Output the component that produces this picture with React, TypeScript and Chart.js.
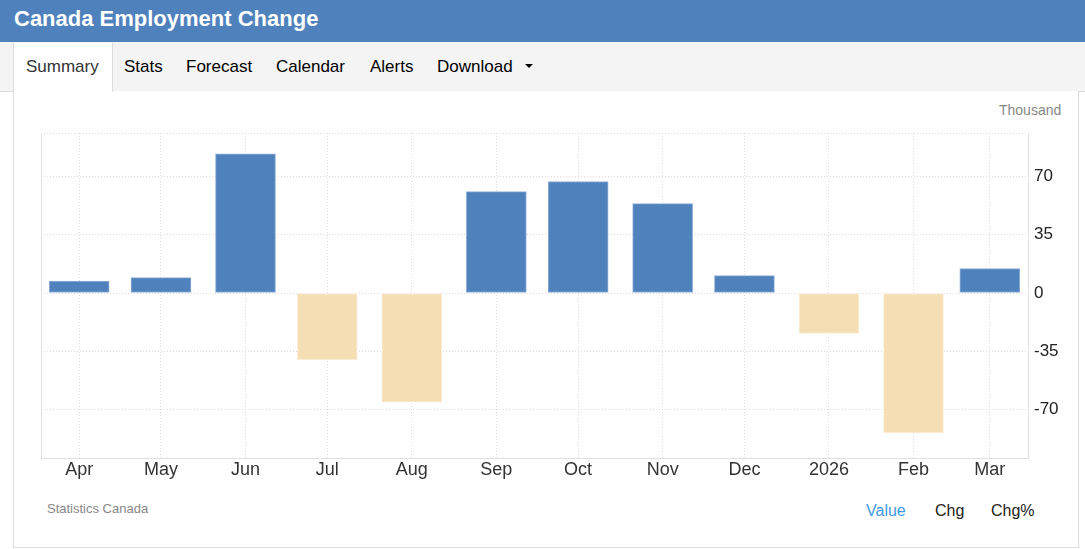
import React, { useEffect, useRef } from 'react';
import { Chart, registerables } from 'chart.js';

Chart.register(...registerables);

// ---- data ----
const categories = ['Apr', 'May', 'Jun', 'Jul', 'Aug', 'Sep', 'Oct', 'Nov', 'Dec', '2026', 'Feb', 'Mar'];
const periodDates = [
  '2025-04-01', '2025-05-01', '2025-06-01', '2025-07-01', '2025-08-01', '2025-09-01',
  '2025-10-01', '2025-11-01', '2025-12-01', '2026-01-01', '2026-02-01', '2026-03-01',
];
const values = [7.2, 9.2, 83.5, -40.2, -65.5, 60.8, 66.9, 53.6, 10.4, -24.3, -84.0, 14.6];
const yTickValues = [-70, -35, 0, 35, 70];
const yMin = -99;
const yMax = 96;
const edgeDays = 14;

const FONT = "'Liberation Sans', Arial, Helvetica, sans-serif";
const BLUE = '#4f81bd';
const WHEAT = '#f5deb3';

const toDay = (s: string) => Date.parse(s + 'T00:00:00Z') / 86400000;

const leftFrame = {
  id: 'leftFrame',
  beforeDatasetsDraw(chart: any) {
    const { ctx, chartArea } = chart;
    ctx.save();
    ctx.strokeStyle = '#e3e3e3';
    ctx.lineWidth = 1;
    ctx.beginPath();
    const x = Math.round(chartArea.left) + 0.5;
    ctx.moveTo(x, chartArea.top);
    ctx.lineTo(x, chartArea.bottom);
    ctx.stroke();
    ctx.restore();
  },
};

function EmploymentChart() {
  const ref = useRef<HTMLCanvasElement | null>(null);
  useEffect(() => {
    if (!ref.current) return;
    const days = periodDates.map(toDay);
    const chart = new Chart(ref.current, {
      type: 'bar',
      data: {
        datasets: [
          {
            data: values.map((v, i) => ({ x: days[i], y: v })),
            backgroundColor: values.map((v) => (v >= 0 ? BLUE : WHEAT)),
            borderColor: values.map((v) => (v >= 0 ? '#93b0d8' : '#fbeedb')),
            borderWidth: 1,
            borderSkipped: false,
            barThickness: 60,
          } as any,
        ],
      },
      plugins: [leftFrame],
      options: {
        animation: false,
        responsive: false,
        events: [],
        layout: { padding: { left: 41, top: 133, right: 0, bottom: 0 } },
        plugins: { legend: { display: false }, tooltip: { enabled: false } },
        scales: {
          x: {
            type: 'linear',
            offset: false,
            min: days[0] - edgeDays,
            max: days[days.length - 1] + edgeDays,
            afterBuildTicks: (scale: any) => {
              scale.ticks = days.map((d) => ({ value: d }));
            },
            afterFit: (scale: any) => {
              scale.height = 91;
            },
            grid: { offset: false, color: '#dcdcdc', drawTicks: false, lineWidth: 1 },
            border: { display: true, color: '#e0e0e0', dash: [1, 2] },
            ticks: {
              autoSkip: false,
              maxRotation: 0,
              padding: 1,
              color: '#333333',
              font: { family: FONT, size: 18 },
              callback: (_v: any, i: number) => categories[i],
            },
          },
          y: {
            type: 'linear',
            position: 'right',
            min: yMin,
            max: yMax,
            afterBuildTicks: (scale: any) => {
              scale.ticks = [yMin, ...yTickValues, yMax].map((v) => ({ value: v }));
            },
            afterFit: (scale: any) => {
              scale.width = 57;
            },
            grid: { color: '#dcdcdc', drawTicks: false, lineWidth: 1 },
            border: { display: true, color: '#e0e0e0', dash: [1, 2] },
            ticks: {
              padding: 6,
              color: '#222222',
              font: { family: FONT, size: 17 },
              callback: (v: any) => (yTickValues.includes(v) ? String(v) : ''),
            },
          },
        },
      } as any,
    });
    return () => chart.destroy();
  }, []);
  return (
    <canvas
      ref={ref}
      width={1085}
      height={549}
      style={{ position: 'absolute', left: 0, top: 0, width: 1085, height: 549 }}
    />
  );
}

const abs = (o: React.CSSProperties): React.CSSProperties => ({ position: 'absolute', ...o });

export default function App() {
  const tabText: React.CSSProperties = { fontSize: 17, color: '#000', lineHeight: '20px', whiteSpace: 'nowrap' };
  return (
    <div
      style={{
        position: 'fixed',
        left: 0,
        top: 0,
        width: 1085,
        height: 549,
        overflow: 'hidden',
        background: '#fff',
        fontFamily: FONT,
      }}
    >
      {/* header */}
      <div style={abs({ left: 0, top: 0, width: 1085, height: 42, background: BLUE })}>
        <div
          style={abs({
            left: 14,
            top: 0,
            height: 38,
            lineHeight: '38px',
            fontSize: 22,
            fontWeight: 'bold',
            color: '#fff',
            whiteSpace: 'nowrap',
          })}
        >
          Canada Employment Change
        </div>
      </div>
      {/* tab bar */}
      <div
        style={abs({
          left: 0,
          top: 42,
          width: 1085,
          height: 50,
          background: '#f4f4f4',
          borderBottom: '1px solid #d9d9d9',
          boxSizing: 'border-box',
        })}
      />
      {/* panel */}
      <div
        style={abs({
          left: 13,
          top: 91,
          width: 1066,
          height: 457,
          borderLeft: '1px solid #dddddd',
          borderRight: '1px solid #dddddd',
          borderBottom: '1px solid #dddddd',
          boxSizing: 'border-box',
          background: '#fff',
        })}
      />
      {/* active tab */}
      <div
        style={abs({
          left: 13,
          top: 43,
          width: 100,
          height: 49,
          background: '#fff',
          borderLeft: '1px solid #dddddd',
          borderRight: '1px solid #dddddd',
          boxSizing: 'border-box',
        })}
      />
      <div style={abs({ ...tabText, left: 26, top: 57, color: '#333' })}>Summary</div>
      <div style={abs({ ...tabText, left: 124, top: 57 })}>Stats</div>
      <div style={abs({ ...tabText, left: 186, top: 57 })}>Forecast</div>
      <div style={abs({ ...tabText, left: 276, top: 57 })}>Calendar</div>
      <div style={abs({ ...tabText, left: 370, top: 57 })}>Alerts</div>
      <div style={abs({ ...tabText, left: 437, top: 57 })}>Download</div>
      <div
        style={abs({
          left: 525,
          top: 64,
          width: 0,
          height: 0,
          borderLeft: '4px solid transparent',
          borderRight: '4px solid transparent',
          borderTop: '4px solid #000',
        })}
      />
      {/* unit */}
      <div style={abs({ left: 999, top: 100, lineHeight: '20px', fontSize: 14, color: '#888' })}>Thousand</div>
      {/* source */}
      <div style={abs({ left: 47, top: 499, lineHeight: '20px', fontSize: 13, color: '#888' })}>Statistics Canada</div>
      {/* toggles */}
      <div style={abs({ left: 866, top: 501, lineHeight: '20px', fontSize: 16, color: '#3d9be9' })}>Value</div>
      <div style={abs({ left: 935, top: 501, lineHeight: '20px', fontSize: 16, color: '#222' })}>Chg</div>
      <div style={abs({ left: 991, top: 501, lineHeight: '20px', fontSize: 16, color: '#222' })}>Chg%</div>
      <EmploymentChart />
    </div>
  );
}
